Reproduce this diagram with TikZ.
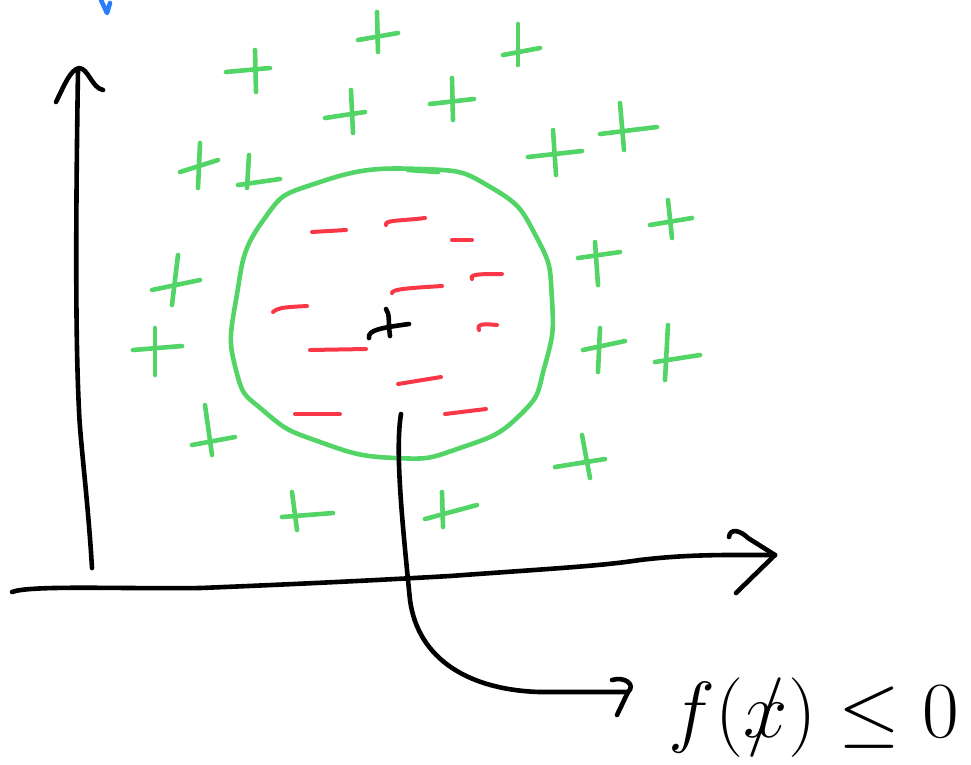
\documentclass[tikz,border=0pt]{standalone}
\usetikzlibrary{calc}
\definecolor{penGreen}{RGB}{82,212,102}
\definecolor{penRed}{RGB}{250,55,70}
\definecolor{penBlue}{RGB}{40,125,250}
\tikzset{
  ink/.style={line width=4.6pt, line cap=round, line join=round, black},
  gink/.style={line width=4.6pt, line cap=round, line join=round, penGreen},
  rink/.style={line width=4pt, line cap=round, line join=round, penRed},
  bink/.style={line width=4.6pt, line cap=round, line join=round, penBlue},
  gplus/.style={gink}
}
\newcommand{\gp}[8]{\draw[gplus] (#1,#2) -- (#3,#4); \draw[gplus] (#5,#6) -- (#7,#8);}
\begin{document}
\begin{tikzpicture}[x=1pt,y=-1pt]
\useasboundingbox (0,0) rectangle (971,764);
% blue mark
\draw[bink] (101,0) -- (107,13) -- (110,3);
% vertical axis
\draw[ink] (92,568) .. controls (88,500) and (80,440) .. (79,410)
  .. controls (75,330) and (76,200) .. (78,70);
\draw[ink] (56,102) .. controls (64,86) and (70,70) .. (79,68) .. controls (88,68) and (92,88) .. (103,90);
% horizontal axis
\coordinate (xtip) at (775,555);
\draw[ink] (12,592) .. controls (30,585) and (120,589) .. (200,588)
  .. controls (300,584) and (380,580) .. (450,576)
  .. controls (560,568) and (600,566) .. (640,560)
  .. controls (690,554) and (730,555) .. (xtip);
\draw[ink] (729,537) .. controls (730,528) and (740,530) .. (748,538) -- (xtip) -- (736,593);
% green boundary
\draw[gink] plot[smooth cycle, tension=0.9] coordinates {
 (420,169) (492,188) (537,238) (552,300) (545,365) (520,415)
 (460,448) (395,458) (320,442) (265,412) (236,370) (236,300)
 (262,222) (320,182)};
\draw[gink] (408,170) -- (438,172);
% red dashes
\draw[rink] (312,232) -- (346,230);
\draw[rink] (386,225) .. controls (384,220) and (400,221) .. (425,218);
\draw[rink] (452,240) -- (472,240);
\draw[rink] (472,279) .. controls (469,274) and (480,274) .. (502,274);
\draw[rink] (392,293) .. controls (392,289) and (410,288) .. (442,286);
\draw[rink] (273,312) .. controls (278,307) and (290,307) .. (307,306);
\draw[rink] (310,350) -- (366,349);
\draw[rink] (479,330) .. controls (476,323) and (486,324) .. (497,325);
\draw[rink] (398,384) -- (441,377);
\draw[rink] (295,414) -- (340,414);
\draw[rink] (445,414) -- (486,409);
% center plus
\draw[ink] (369,338) .. controls (368,330) and (380,328) .. (409,324);
\draw[ink] (386,309) .. controls (390,314) and (388,322) .. (390,336);
% green pluses
\gp{226}{72}{270}{68}{255}{50}{256}{92}
\gp{358}{40}{398}{33}{377}{12}{378}{52}
\gp{503}{55}{540}{48}{518}{24}{518}{65}
\gp{325}{118}{365}{112}{351}{90}{353}{133}
\gp{430}{104}{474}{99}{452}{78}{453}{120}
\gp{180}{172}{218}{160}{200}{143}{198}{188}
\gp{238}{185}{280}{179}{249}{155}{247}{188}
\gp{528}{157}{582}{151}{553}{130}{556}{175}
\gp{600}{134}{657}{127}{620}{103}{624}{150}
\gp{650}{225}{692}{218}{668}{200}{672}{238}
\gp{578}{258}{620}{252}{595}{242}{598}{285}
\gp{152}{290}{200}{280}{178}{255}{172}{305}
\gp{133}{350}{182}{346}{155}{328}{155}{375}
\gp{583}{350}{625}{341}{600}{328}{598}{372}
\gp{655}{362}{700}{355}{668}{325}{665}{380}
\gp{192}{445}{235}{437}{205}{405}{212}{455}
\gp{555}{467}{605}{459}{582}{435}{590}{478}
\gp{282}{517}{333}{513}{292}{492}{297}{530}
\gp{425}{519}{477}{505}{442}{492}{443}{527}
% label
\node[inner sep=0pt, anchor=base west, scale=3.2] (fx) at (668,737)
  {\Huge$f(\mbox{\ooalign{$x$\cr\hidewidth$/$\hidewidth\cr}})\leq 0$};
% curved arrow
\coordinate (cstart) at (401,414);
\coordinate (aend) at (628,692);
\draw[ink] (cstart) .. controls (395,450) and (402,520) .. (410,600)
  .. controls (418,660) and (470,690) .. (540,692) -- (aend);
\draw[ink] (612,680) .. controls (625,676) and (636,685) .. (aend) -- (617,715);
\end{tikzpicture}
\end{document}
